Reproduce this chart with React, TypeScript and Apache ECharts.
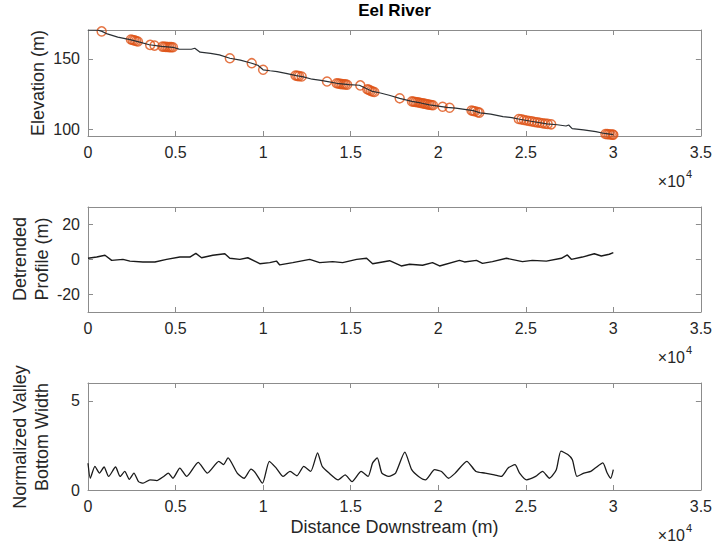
import React, { useEffect, useRef } from 'react';
import * as echarts from 'echarts';

const FONT = '"Liberation Sans", Arial, Helvetica, sans-serif';
const AXIS_COLOR = '#8c8c8c';
const TEXT_COLOR = '#262626';
const ORANGE = '#DE5418';

// Elevation profile (distance m, elevation m)
const elevDist = [0, 570, 800, 1100, 1700, 2400, 2900, 3500, 4200, 4850, 5200, 5900, 6100, 6400, 7000, 7500, 8100, 8700, 9300, 9700, 10000, 10400, 10800, 11300, 11900, 12300, 12800, 13300, 13700, 14200, 14900, 15500, 15800, 16250, 16700, 17200, 17800, 18500, 19000, 19500, 20000, 20500, 21000, 21500, 22000, 22400, 23000, 23700, 24200, 24650, 25300, 26200, 26800, 27300, 27450, 27650, 28300, 29000, 29500, 30000];
const elevVal = [170.6, 170.5, 169.6, 167.8, 165.5, 163.7, 162.2, 160.1, 158.9, 158.3, 157.0, 156.9, 157.6, 154.8, 154.0, 152.9, 150.5, 149.2, 147.1, 145.5, 142.3, 141.6, 141.0, 139.8, 138.1, 137.3, 135.6, 134.8, 133.9, 132.7, 131.7, 131.3, 129.5, 126.9, 125.8, 124.2, 122.0, 119.8, 118.7, 117.4, 116.5, 115.5, 115.0, 114.2, 113.2, 111.6, 110.8, 109.0, 108.3, 107.1, 105.7, 103.8, 103.2, 102.3, 103.0, 100.4, 99.6, 98.3, 97.0, 96.2];

// Marked points on the profile
const markerDist = [780, 2450, 2550, 2650, 2750, 2850, 3550, 3800, 4250, 4350, 4450, 4550, 4650, 4750, 4850, 8100, 9350, 10000, 11850, 11950, 12050, 12200, 13650, 14200, 14300, 14400, 14500, 14600, 14700, 14800, 15550, 15950, 16050, 16150, 16250, 16350, 17800, 18500, 18600, 18700, 18800, 18900, 19000, 19100, 19200, 19300, 19400, 19500, 19600, 19700, 20250, 20650, 21900, 22000, 22100, 22250, 22350, 24600, 24750, 24900, 25050, 25200, 25350, 25500, 25650, 25800, 25950, 26100, 26250, 26450, 29550, 29650, 29750, 29850, 29950, 30000];
const markerElev = [169.6, 163.8, 163.5, 163.2, 162.8, 162.4, 160.0, 159.5, 158.8, 158.7, 158.6, 158.5, 158.4, 158.4, 158.3, 150.5, 147.0, 142.3, 138.2, 138.0, 137.8, 137.5, 134.0, 132.7, 132.5, 132.3, 132.1, 132.0, 131.9, 131.7, 131.2, 128.5, 128.0, 127.3, 126.9, 126.5, 122.0, 119.8, 119.6, 119.4, 119.2, 119.0, 118.7, 118.5, 118.2, 118.0, 117.7, 117.4, 117.3, 117.1, 116.0, 115.3, 113.3, 113.0, 112.8, 112.2, 111.8, 107.3, 107.0, 106.6, 106.2, 105.9, 105.6, 105.2, 104.9, 104.6, 104.3, 104.0, 103.8, 103.5, 96.6, 96.5, 96.4, 96.3, 96.2, 96.1];

// Detrended profile
const detrDist = [0, 496, 970, 1352, 1996, 2395, 3137, 3821, 4488, 5247, 5817, 6159, 6484, 7129, 7813, 8098, 8669, 9125, 9809, 10379, 10762, 10950, 11691, 12661, 13231, 13972, 14543, 15341, 15911, 16254, 17223, 17890, 18364, 19105, 19675, 20075, 21215, 21500, 22185, 22527, 23097, 23896, 24808, 25378, 26177, 27032, 27374, 27602, 28230, 28914, 29313, 29770, 30000];
const detrVal = [0.7, 1.4, 2.4, -0.5, 0.1, -0.9, -1.4, -1.4, 0.1, 1.4, 1.4, 3.5, 1.0, 2.4, 3.3, 0.7, 0.1, 1.0, -2.4, -1.8, -0.9, -3.1, -1.8, 0.1, -1.8, -1.2, -1.8, 0.1, 0.7, -2.4, -0.7, -3.7, -2.7, -3.3, -1.8, -3.7, -0.5, -1.4, -0.5, -2.2, -1.2, 0.7, -1.2, -0.5, -0.9, 0.7, 2.6, 0.1, 1.4, 3.3, 2.0, 3.0, 3.9];

// Normalized valley bottom width
const widthDist = [0, 131, 393, 656, 918, 1180, 1573, 1835, 2098, 2360, 2622, 2884, 3146, 3540, 3933, 4326, 4589, 4851, 5244, 5637, 6293, 6817, 7473, 7735, 7997, 8522, 8915, 9308, 9570, 9964, 10357, 10750, 11144, 11537, 11930, 12323, 12717, 13110, 13372, 13766, 14290, 14683, 15077, 15601, 15994, 16256, 16519, 16781, 17174, 17567, 18092, 18485, 18878, 19272, 19796, 20189, 20583, 20976, 21632, 22156, 22680, 23205, 23598, 23991, 24385, 24647, 25040, 25565, 25958, 26351, 26744, 27007, 27400, 27662, 27924, 28318, 28711, 28973, 29400, 29650, 29850, 30000];
const widthVal = [1.5, 0.66, 1.33, 0.95, 1.29, 0.76, 1.29, 0.76, 1.04, 0.6, 0.95, 0.47, 0.38, 0.57, 0.53, 0.76, 0.95, 0.66, 1.23, 0.76, 1.55, 0.95, 1.61, 1.42, 1.8, 0.95, 0.66, 1.17, 0.95, 0.38, 1.61, 1.23, 0.76, 1.04, 0.8, 1.33, 1.04, 2.08, 1.33, 0.95, 0.57, 0.85, 0.47, 1.04, 0.76, 1.52, 1.8, 0.95, 0.76, 0.95, 2.12, 1.14, 0.76, 0.57, 1.14, 1.04, 0.66, 0.95, 1.61, 1.04, 0.95, 0.85, 0.76, 1.23, 1.42, 0.95, 0.57, 0.76, 1.04, 0.66, 1.14, 2.18, 1.99, 1.7, 0.76, 0.95, 1.04, 1.23, 1.52, 0.95, 0.66, 1.14];

const xTicks = [0, 5000, 10000, 15000, 20000, 25000, 30000, 35000];
const elevTicks = [100, 150];
const detrTicks = [-20, 0, 20];
const widthTicks = [0, 5];
const yRanges = [
  [95.2, 170.6],
  [-30, 30],
  [0, 6],
];
const yTickSets = [elevTicks, detrTicks, widthTicks];

const GRID_LEFT = 88;
const GRID_WIDTH = 613;
const gridTops = [30, 207, 383];
const gridHeights = [106, 105, 107];

const lineStyle = { color: AXIS_COLOR, width: 1 };

function buildOption() {
  const grid = gridTops.map((t, i) => ({ left: GRID_LEFT, top: t, width: GRID_WIDTH, height: gridHeights[i] }));
  const xAxis: any[] = [];
  const yAxis: any[] = [];
  [0, 1, 2].forEach((i) => {
    xAxis.push({
      type: 'value', gridIndex: i, min: xTicks[0], max: xTicks[xTicks.length - 1], interval: xTicks[1] - xTicks[0],
      position: 'bottom',
      axisLine: { show: true, onZero: false, lineStyle },
      axisTick: { show: true, inside: true, length: 5, lineStyle },
      axisLabel: { show: true, color: TEXT_COLOR, fontSize: 16, fontFamily: FONT, margin: 8, formatter: (v: number) => String(v / 10000) },
      splitLine: { show: false },
    });
  });
  [0, 1, 2].forEach((i) => {
    xAxis.push({
      type: 'value', gridIndex: i, min: xTicks[0], max: xTicks[xTicks.length - 1], interval: xTicks[1] - xTicks[0],
      position: 'top',
      axisLine: { show: true, onZero: false, lineStyle },
      axisTick: { show: true, inside: true, length: 5, lineStyle },
      axisLabel: { show: false },
      splitLine: { show: false },
    });
  });
  [0, 1, 2].forEach((i) => {
    yAxis.push({
      type: 'value', gridIndex: i, min: yRanges[i][0], max: yRanges[i][1], position: 'left',
      axisLine: { show: true, onZero: false, lineStyle },
      axisTick: { show: true, inside: true, length: 5, lineStyle, customValues: yTickSets[i] },
      axisLabel: { show: true, color: TEXT_COLOR, fontSize: 16, fontFamily: FONT, margin: 8, customValues: yTickSets[i] },
      splitLine: { show: false },
    });
  });
  [0, 1, 2].forEach((i) => {
    yAxis.push({
      type: 'value', gridIndex: i, min: yRanges[i][0], max: yRanges[i][1], position: 'right',
      axisLine: { show: true, onZero: false, lineStyle },
      axisTick: { show: true, inside: true, length: 5, lineStyle, customValues: yTickSets[i] },
      axisLabel: { show: false },
      splitLine: { show: false },
    });
  });

  const series: any[] = [
    {
      type: 'line', xAxisIndex: 0, yAxisIndex: 0, showSymbol: false, symbol: 'none',
      data: elevDist.map((d, i) => [d, elevVal[i]]),
      lineStyle: { color: '#2a2f33', width: 1.2 },
    },
    {
      type: 'scatter', xAxisIndex: 0, yAxisIndex: 0, symbol: 'circle', symbolSize: 9,
      data: markerDist.map((d, i) => [d, markerElev[i]]),
      itemStyle: { color: 'rgba(0,0,0,0)', borderColor: ORANGE, borderWidth: 1.5 },
    },
    {
      type: 'line', xAxisIndex: 1, yAxisIndex: 1, showSymbol: false, symbol: 'none',
      data: detrDist.map((d, i) => [d, detrVal[i]]),
      lineStyle: { color: '#1a1a1a', width: 1.4 },
    },
    {
      type: 'line', xAxisIndex: 2, yAxisIndex: 2, showSymbol: false, symbol: 'none', smooth: 0.2,
      data: widthDist.map((d, i) => [d, widthVal[i]]),
      lineStyle: { color: '#1a1a1a', width: 1.3 },
    },
  ];

  const textBase = { fill: TEXT_COLOR, fontFamily: FONT };
  const graphic: any[] = [
    { type: 'text', x: GRID_LEFT + GRID_WIDTH / 2, y: 10, style: { ...textBase, text: 'Eel River', fontSize: 17, fontWeight: 'bold', textAlign: 'center', textVerticalAlign: 'middle', fill: '#000' } },
    { type: 'text', x: 38, y: 83, rotation: Math.PI / 2, style: { ...textBase, text: 'Elevation (m)', fontSize: 18, textAlign: 'center', textVerticalAlign: 'middle' } },
    { type: 'text', x: 31, y: 259, rotation: Math.PI / 2, style: { ...textBase, text: 'Detrended\nProfile (m)', fontSize: 18, lineHeight: 22, textAlign: 'center', textVerticalAlign: 'middle' } },
    { type: 'text', x: 31, y: 437, rotation: Math.PI / 2, style: { ...textBase, text: 'Normalized Valley\nBottom Width', fontSize: 18, lineHeight: 22, textAlign: 'center', textVerticalAlign: 'middle' } },
    { type: 'text', x: GRID_LEFT + GRID_WIDTH / 2, y: 527, style: { ...textBase, text: 'Distance Downstream (m)', fontSize: 18, textAlign: 'center', textVerticalAlign: 'middle' } },
  ];
  gridTops.forEach((t, i) => {
    const yy = t + gridHeights[i] + 45;
    graphic.push({ type: 'text', x: 685, y: yy, style: { ...textBase, text: '×10', fontSize: 16, textAlign: 'right', textVerticalAlign: 'middle' } });
    graphic.push({ type: 'text', x: 686, y: yy - 7, style: { ...textBase, text: '4', fontSize: 11, textAlign: 'left', textVerticalAlign: 'middle' } });
  });

  return { animation: false, backgroundColor: '#ffffff', grid, xAxis, yAxis, series, graphic };
}

export default function App() {
  const ref = useRef<HTMLDivElement>(null);
  useEffect(() => {
    if (!ref.current) return;
    const chart = echarts.init(ref.current, undefined, { renderer: 'svg' });
    chart.setOption(buildOption() as any);
    return () => chart.dispose();
  }, []);
  return <div ref={ref} style={{ position: 'fixed', left: 0, top: 0, width: 715, height: 545 }} />;
}
